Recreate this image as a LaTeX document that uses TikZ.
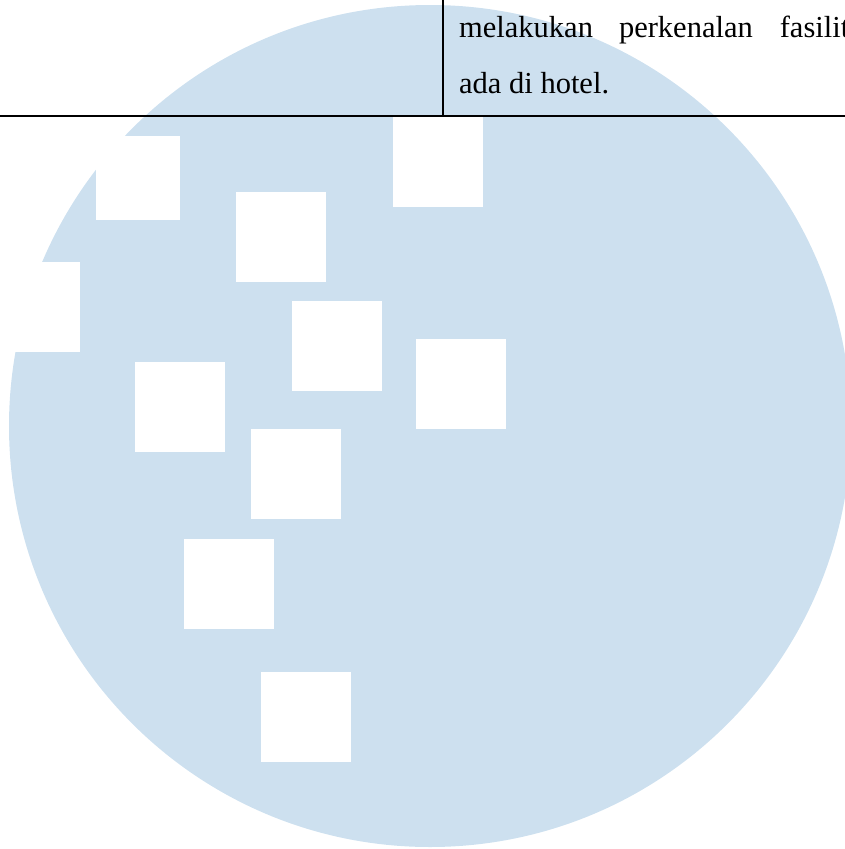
\documentclass[tikz,border=0pt]{standalone}
\usepackage{fontspec}
\setmainfont{Liberation Serif}
\usetikzlibrary{positioning}
\definecolor{logoblue}{RGB}{205,224,239}
\tikzset{
    x=1pt,y=-1pt,
    disc/.style = {circle, fill=logoblue, inner sep=0pt, outer sep=0pt, minimum size=842pt},
    tile/.style = {rectangle, fill=white, inner sep=0pt, outer sep=0pt, minimum size=90pt},
    rule/.style = {line width=2pt, black},
    cell/.style = {inner sep=0pt, anchor=base west, font=\fontsize{30.5}{38}\selectfont}
}
\begin{document}
\begin{tikzpicture}
    \useasboundingbox (0,0) rectangle (845,849);
    \node[disc] (logo) at (430,426) {};

    \node[tile, minimum size=84pt] (t1) at (138,178) {};
    \node[tile] (t2) at (35,307) {};
    \node[tile] (t3) at (281,237) {};
    \node[tile] (t4) at (438,162) {};
    \node[tile] (t5) at (337,346) {};
    \node[tile] (t6) at (461,384) {};
    \node[tile] (t7) at (180,407) {};
    \node[tile] (t8) at (296,474) {};
    \node[tile] (t9) at (229,584) {};
    \node[tile] (t10) at (306,717) {};

    \coordinate (ltop) at (443,0);
    \coordinate (lbot) at (443,116);
    \coordinate (hl) at (0,116);
    \coordinate (hr) at (845,116);
    \draw[rule] (ltop) -- (lbot);
    \draw[rule] (hl) -- (hr);

    \node[cell] (line1) at (459,37) {melakukan\hspace{26pt}perkenalan\hspace{27pt}fasilit};
    \node[cell] (line2) at (459,93) {ada di hotel.};
\end{tikzpicture}
\end{document}
